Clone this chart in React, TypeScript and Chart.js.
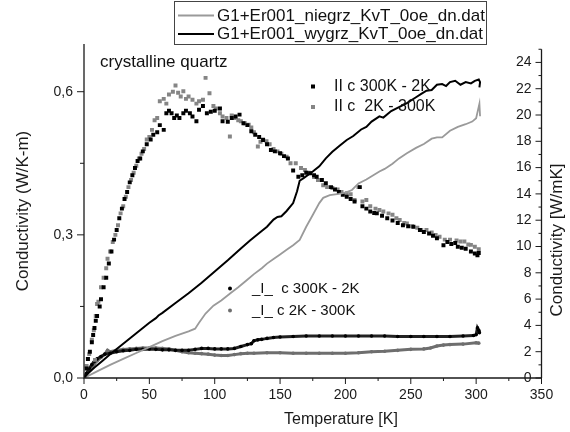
import React, { useEffect, useRef } from "react";
import { Chart, registerables } from "chart.js";

Chart.register(...registerables);

// ---- Data ----
const niegrzLine: [number, number][] = [
  [0, 0], [10, 0.5], [20, 1.0], [30, 1.45], [40, 1.9], [50, 2.35], [60, 2.8], [70, 3.2], [80, 3.55], [85, 3.75],
  [88, 4.2], [93, 4.9], [99, 5.5], [105, 5.9], [112, 6.45], [118, 6.9], [124, 7.4], [130, 7.9], [136, 8.35],
  [140, 8.7], [145, 9.05], [150, 9.4], [155, 9.75], [160, 10.1], [165, 10.5], [170, 11.5], [175, 12.4],
  [180, 13.3], [183, 13.7], [188, 13.9], [195, 14.0], [200, 14.1], [205, 14.3], [210, 14.8], [216, 15.1],
  [221, 15.4], [226, 15.7], [230, 15.9], [236, 16.3], [241, 16.7], [247, 17.1], [254, 17.5], [260, 17.8],
  [266, 18.2], [270, 18.3], [274, 18.3], [280, 18.8], [286, 19.1], [292, 19.3], [297, 19.5], [300, 19.75],
  [301, 20.2], [302.5, 20.85], [303, 19.9],
];

const wygrzLine: [number, number][] = [
  [0, 0], [3, 0.35], [8, 0.8], [14, 1.3], [20, 1.8], [30, 2.6], [40, 3.4], [50, 4.2], [55, 4.55], [57, 4.75],
  [60, 4.95], [70, 5.7], [80, 6.45], [90, 7.25], [100, 8.1], [110, 8.95], [120, 9.85], [127, 10.45], [135, 11.1],
  [140, 11.5], [145, 12.05], [148, 12.25], [151, 12.3], [155, 12.7], [160, 13.3], [163, 14.2], [165, 15.0],
  [168, 15.2], [175, 15.7], [180, 16.1], [185, 16.7], [190, 17.2], [196, 17.7], [201, 18.1], [206, 18.4],
  [212, 18.9], [216, 19.1], [220, 19.5], [226, 19.9], [229, 19.8], [235, 20.3], [241, 20.6], [247, 20.9],
  [254, 21.35], [258, 21.6], [262, 21.85], [266, 21.9], [270, 22.3], [274, 22.35], [277, 22.2], [280, 22.5],
  [284, 22.6], [288, 22.3], [292, 22.5], [296, 22.4], [299, 22.6], [302, 22.7], [303, 22.5], [302.5, 22.1],
];

const parCoolT = [2, 3, 4.5, 6, 7, 8, 9, 10, 12, 13, 15, 17, 19, 21, 23, 25, 27, 29, 31, 33, 35, 37, 39, 41, 43, 45, 48, 51, 53, 56, 58, 61, 63, 65, 67, 69, 71, 73, 76, 78, 81, 83, 86, 88, 91, 94, 97, 100, 104, 106, 110, 113, 116, 119, 122, 125, 128, 131, 134, 137, 140, 143, 146, 150, 153, 156, 160, 164, 167, 170, 173, 176, 178, 182, 185, 189, 192, 195, 198, 201, 204, 207, 211, 213, 216, 219, 222, 224, 228, 232, 236, 240, 244, 248, 252, 257, 260, 264, 267, 270, 275, 278, 281, 284, 286, 289, 292, 296, 299, 301, 302];
const parCoolK = [0.02, 0.04, 0.055, 0.075, 0.09, 0.105, 0.12, 0.13, 0.15, 0.165, 0.19, 0.21, 0.24, 0.265, 0.29, 0.31, 0.335, 0.355, 0.375, 0.39, 0.41, 0.425, 0.44, 0.455, 0.46, 0.475, 0.49, 0.5, 0.51, 0.515, 0.53, 0.52, 0.555, 0.56, 0.555, 0.545, 0.55, 0.545, 0.555, 0.56, 0.555, 0.548, 0.538, 0.562, 0.57, 0.555, 0.558, 0.56, 0.565, 0.538, 0.537, 0.545, 0.548, 0.552, 0.534, 0.53, 0.517, 0.51, 0.505, 0.499, 0.49, 0.478, 0.475, 0.471, 0.465, 0.46, 0.435, 0.422, 0.425, 0.43, 0.429, 0.425, 0.422, 0.415, 0.408, 0.4, 0.395, 0.39, 0.384, 0.38, 0.375, 0.37, 0.4, 0.36, 0.355, 0.349, 0.346, 0.345, 0.34, 0.335, 0.33, 0.325, 0.32, 0.318, 0.317, 0.31, 0.306, 0.303, 0.298, 0.293, 0.278, 0.285, 0.281, 0.283, 0.275, 0.273, 0.271, 0.265, 0.261, 0.257, 0.262];

const parHeatT = [2, 3, 4, 8.4, 6, 7.5, 9, 10, 11, 13, 15, 17, 18, 20, 22, 24, 26, 28, 30, 32, 34, 36, 38, 40, 42, 44, 46, 48, 50, 52, 54, 56, 58, 61, 63, 65, 68, 70, 72, 74, 76, 78, 80, 83, 86, 88, 91, 93, 96, 99, 101, 104, 106, 109, 111.6, 113, 115, 118, 120, 123, 126, 128, 130, 133, 135, 137, 139.6, 142, 145, 148, 151, 155, 158, 162, 166, 169, 172, 176, 179, 183, 186, 190, 194, 197, 201, 204, 207, 210, 213, 216, 219, 223, 226, 229, 233, 236, 239, 241.5, 245, 247, 251, 255, 258, 262, 266, 269, 272, 276, 280, 285, 288, 291, 294, 296, 299, 302];
const parHeatK = [0.025, 0.04, 0.05, 0.038, 0.08, 0.1, 0.13, 0.155, 0.16, 0.19, 0.21, 0.23, 0.25, 0.265, 0.285, 0.3, 0.32, 0.345, 0.36, 0.38, 0.4, 0.415, 0.43, 0.445, 0.46, 0.47, 0.48, 0.5, 0.505, 0.52, 0.54, 0.545, 0.58, 0.585, 0.575, 0.594, 0.6, 0.613, 0.598, 0.59, 0.601, 0.585, 0.59, 0.583, 0.575, 0.58, 0.583, 0.629, 0.597, 0.57, 0.565, 0.555, 0.548, 0.545, 0.506, 0.55, 0.545, 0.54, 0.538, 0.534, 0.531, 0.525, 0.515, 0.485, 0.495, 0.5, 0.496, 0.49, 0.48, 0.475, 0.47, 0.464, 0.45, 0.45, 0.44, 0.436, 0.43, 0.421, 0.415, 0.404, 0.4, 0.398, 0.395, 0.39, 0.387, 0.385, 0.373, 0.4, 0.37, 0.373, 0.36, 0.355, 0.352, 0.349, 0.345, 0.342, 0.335, 0.331, 0.325, 0.324, 0.318, 0.315, 0.31, 0.31, 0.305, 0.3, 0.296, 0.29, 0.29, 0.288, 0.286, 0.286, 0.28, 0.279, 0.275, 0.27];

const perpCoolT = [0, 2, 4, 6, 8, 10, 13, 16, 20, 25, 30, 35, 40, 45, 50, 55, 60, 65, 70, 75, 80, 85, 90, 95, 100, 105, 110, 115, 120, 125, 128, 130, 133, 136, 140, 145, 150, 160, 170, 180, 190, 200, 210, 220, 230, 240, 250, 260, 270, 280, 290, 298, 300, 301, 302, 302.5];
const perpCoolK = [0, 0.01, 0.02, 0.028, 0.035, 0.04, 0.045, 0.05, 0.052, 0.055, 0.057, 0.058, 0.06, 0.06, 0.061, 0.06, 0.059, 0.059, 0.058, 0.058, 0.058, 0.06, 0.062, 0.062, 0.061, 0.061, 0.061, 0.062, 0.066, 0.07, 0.072, 0.078, 0.08, 0.081, 0.083, 0.085, 0.086, 0.087, 0.088, 0.088, 0.088, 0.088, 0.088, 0.088, 0.088, 0.087, 0.087, 0.087, 0.087, 0.087, 0.088, 0.089, 0.091, 0.105, 0.1, 0.095];

const perpHeatT = [0, 2, 4, 6, 8, 10, 13, 16, 18, 20, 25, 30, 35, 40, 45, 50, 55, 60, 65, 70, 75, 80, 85, 90, 95, 100, 105, 110, 115, 120, 125, 130, 140, 150, 160, 170, 180, 190, 200, 210, 220, 230, 240, 250, 260, 265, 270, 275, 280, 290, 300, 302];
const perpHeatK = [0, 0.008, 0.015, 0.022, 0.03, 0.036, 0.043, 0.05, 0.058, 0.055, 0.058, 0.06, 0.061, 0.062, 0.063, 0.063, 0.063, 0.062, 0.061, 0.058, 0.055, 0.053, 0.052, 0.051, 0.05, 0.048, 0.047, 0.047, 0.049, 0.051, 0.052, 0.052, 0.053, 0.053, 0.052, 0.052, 0.052, 0.052, 0.052, 0.053, 0.055, 0.056, 0.058, 0.06, 0.061, 0.063, 0.067, 0.069, 0.07, 0.071, 0.074, 0.073];

const xTicks = [0, 50, 100, 150, 200, 250, 300, 350];
const yLeftTicks = [0, 0.3, 0.6];
const yLeftLabels = ["0,0", "0,3", "0,6"];
const yRightTicks = [0, 2, 4, 6, 8, 10, 12, 14, 16, 18, 20, 22, 24];

const legendTop = ["G1+Er001_niegrz_KvT_0oe_dn.dat", "G1+Er001_wygrz_KvT_0oe_dn.dat"];
const legendPar = ["II c 300K - 2K", "II c  2K - 300K"];
const legendPerp = ["_I_  c 300K - 2K", "_I_ c 2K - 300K"];

const GRAY_LINE = "#9a9a9a";
const GRAY_SQ = "#858585";
const GRAY_DOT = "#6e6e6e";
const BLACK = "#000000";
const FONT = '"Liberation Sans", Arial, sans-serif';

const pts = (t: number[], v: number[]) => t.map((x, i) => ({ x, y: v[i] }));
const pairs = (a: [number, number][]) => a.map(([x, y]) => ({ x, y }));

const decorPlugin = {
  id: "decor",
  afterDraw(chart: any) {
    const ctx = chart.ctx as CanvasRenderingContext2D;
    const xs = chart.scales.x;
    const yl = chart.scales.y;
    const yr = chart.scales.y2;
    const ca = chart.chartArea;
    ctx.save();
    ctx.strokeStyle = "#1a1a1a";
    ctx.fillStyle = "#1a1a1a";
    ctx.lineWidth = 1.3;
    ctx.beginPath();
    ctx.moveTo(ca.left, ca.top);
    ctx.lineTo(ca.left, ca.bottom);
    ctx.lineTo(ca.right, ca.bottom);
    ctx.stroke();
    ctx.beginPath();
    ctx.moveTo(ca.right, yr.getPixelForValue(25));
    ctx.lineTo(ca.right, ca.bottom);
    ctx.stroke();
    ctx.lineWidth = 1;
    for (let v = 0; v <= 350; v += 25) {
      const px = xs.getPixelForValue(v);
      const len = v % 50 === 0 ? 6 : 3;
      ctx.beginPath();
      ctx.moveTo(px, ca.bottom);
      ctx.lineTo(px, ca.bottom + len);
      ctx.stroke();
    }
    for (let i = 0; i <= 4; i++) {
      const py = yl.getPixelForValue(i * 0.15);
      const len = i % 2 === 0 ? 7 : 4;
      ctx.beginPath();
      ctx.moveTo(ca.left, py);
      ctx.lineTo(ca.left - len, py);
      ctx.stroke();
    }
    for (let v = 0; v <= 25; v += 1) {
      const py = yr.getPixelForValue(v);
      const len = v % 2 === 0 ? 6 : 3;
      ctx.beginPath();
      ctx.moveTo(ca.right, py);
      ctx.lineTo(ca.right - len, py);
      ctx.stroke();
    }
    ctx.font = `14px ${FONT}`;
    ctx.textBaseline = "middle";
    ctx.textAlign = "center";
    xTicks.forEach((v) => ctx.fillText(String(v), xs.getPixelForValue(v), ca.bottom + 17));
    ctx.textAlign = "right";
    yLeftTicks.forEach((v, i) => ctx.fillText(yLeftLabels[i], ca.left - 11, yl.getPixelForValue(v)));
    yRightTicks.forEach((v) => ctx.fillText(String(v), ca.right - 10, yr.getPixelForValue(v)));

    // axis titles
    ctx.textAlign = "center";
    ctx.font = `16px ${FONT}`;
    ctx.fillText("Temperature [K]", 341, 420);
    ctx.font = `17px ${FONT}`;
    ctx.save();
    ctx.translate(23, 211);
    ctx.rotate(-Math.PI / 2);
    ctx.fillText("Conductivity (W/K-m)", 0, 0);
    ctx.restore();
    ctx.save();
    ctx.translate(557, 240);
    ctx.rotate(-Math.PI / 2);
    ctx.fillText("Conductivity [W/mK]", 0, 0);
    ctx.restore();

    ctx.textAlign = "left";
    ctx.fillStyle = "#111";
    ctx.font = `17px ${FONT}`;
    ctx.fillText("crystalline quartz", 100, 62);

    // top legend box
    ctx.fillStyle = "#ffffff";
    ctx.fillRect(174.5, 1.5, 312, 43);
    ctx.strokeStyle = "#444";
    ctx.lineWidth = 1;
    ctx.strokeRect(174.5, 1.5, 312, 43);
    const topCols = [GRAY_LINE, BLACK];
    legendTop.forEach((txt, i) => {
      const y = 15.5 + i * 18.5;
      ctx.strokeStyle = topCols[i];
      ctx.lineWidth = 2;
      ctx.beginPath();
      ctx.moveTo(178, y);
      ctx.lineTo(214, y);
      ctx.stroke();
      ctx.fillStyle = "#111";
      ctx.font = `17px ${FONT}`;
      ctx.fillText(txt, 217, y + 0.5);
    });

    // parallel legend
    ctx.font = `16px ${FONT}`;
    const parCols = [BLACK, GRAY_SQ];
    legendPar.forEach((txt, i) => {
      const y = 86.5 + i * 20.5;
      ctx.fillStyle = parCols[i];
      ctx.fillRect(311, y - 2, 4, 4);
      ctx.fillStyle = "#111";
      ctx.fillText(txt, 334, y);
    });
    // perpendicular legend
    ctx.font = `15px ${FONT}`;
    const perpCols = [BLACK, GRAY_DOT];
    legendPerp.forEach((txt, i) => {
      const y = 288.5 + i * 22;
      ctx.fillStyle = perpCols[i];
      ctx.beginPath();
      ctx.arc(230, y, 2, 0, Math.PI * 2);
      ctx.fill();
      ctx.fillStyle = "#111";
      ctx.fillText(txt, 252, y);
    });
    ctx.restore();
  },
};

export default function App() {
  const ref = useRef<HTMLCanvasElement | null>(null);
  useEffect(() => {
    if (!ref.current) return;
    const chart = new Chart(ref.current, {
      type: "scatter",
      data: {
        datasets: [
          {
            label: legendTop[1],
            data: pairs(wygrzLine),
            yAxisID: "y2",
            showLine: true,
            borderColor: BLACK,
            borderWidth: 2,
            pointRadius: 0,
          },
          {
            label: legendTop[0],
            data: pairs(niegrzLine),
            yAxisID: "y2",
            showLine: true,
            borderColor: GRAY_LINE,
            borderWidth: 1.8,
            pointRadius: 0,
          },
          {
            label: legendPar[0],
            data: pts(parCoolT, parCoolK),
            yAxisID: "y",
            pointStyle: "rect",
            pointRadius: 2.8,
            backgroundColor: BLACK,
            borderWidth: 0,
          },
          {
            label: legendPar[1],
            data: pts(parHeatT, parHeatK),
            yAxisID: "y",
            pointStyle: "rect",
            pointRadius: 2.8,
            backgroundColor: GRAY_SQ,
            borderWidth: 0,
          },
          {
            label: legendPerp[0],
            data: pts(perpCoolT, perpCoolK),
            yAxisID: "y",
            showLine: true,
            borderColor: "#222",
            borderWidth: 3,
            pointRadius: 1.8,
            backgroundColor: BLACK,
            pointBorderWidth: 0,
          },
          {
            label: legendPerp[1],
            data: pts(perpHeatT, perpHeatK),
            yAxisID: "y",
            showLine: true,
            borderColor: GRAY_DOT,
            borderWidth: 3,
            pointRadius: 1.8,
            backgroundColor: GRAY_DOT,
            pointBorderWidth: 0,
          },
        ],
      },
      options: {
        responsive: false,
        animation: false,
        events: [],
        layout: { padding: { left: 84, right: 28.5, top: 44, bottom: 54 } },
        plugins: { legend: { display: false }, tooltip: { enabled: false } },
        scales: {
          x: { type: "linear", min: 0, max: 350, display: false },
          y: { type: "linear", min: 0, max: 0.7, display: false },
          y2: { type: "linear", min: 0, max: 25.4, display: false, position: "right" },
        },
      },
      plugins: [decorPlugin],
    });
    return () => chart.destroy();
  }, []);
  return (
    <div style={{ position: "absolute", left: 0, top: 0, width: 570, height: 432, background: "#fff" }}>
      <canvas ref={ref} width={570} height={432} style={{ display: "block" }} />
    </div>
  );
}
